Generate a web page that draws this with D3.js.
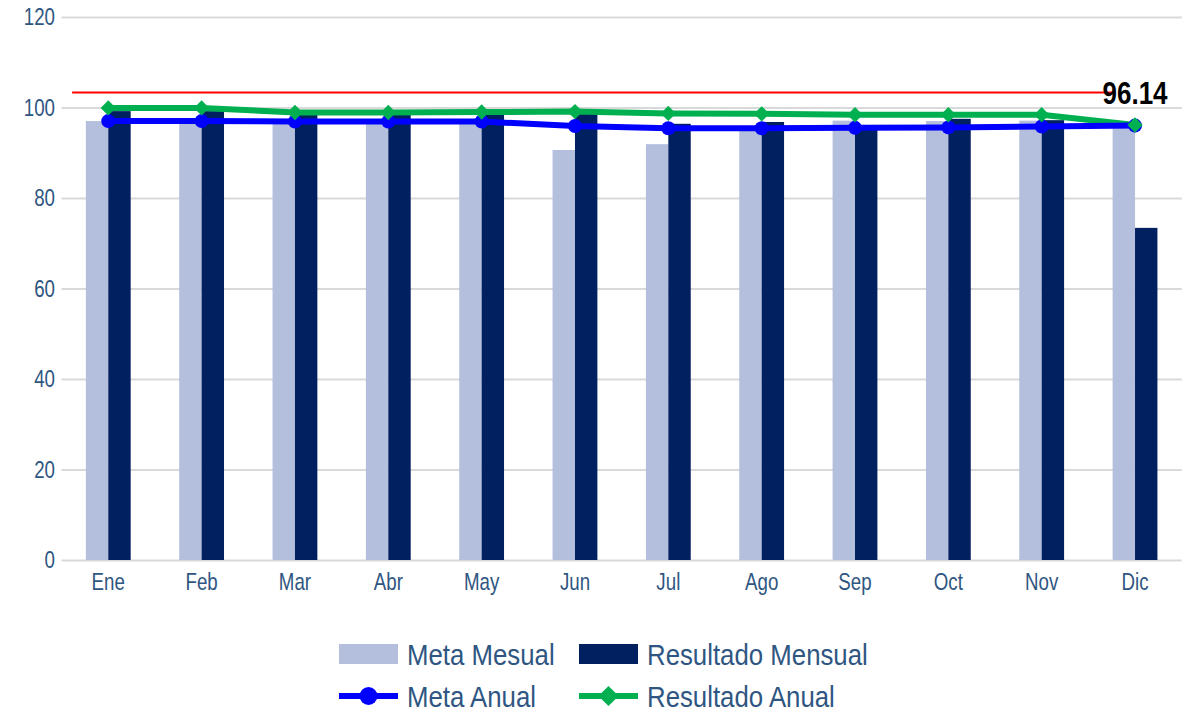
<!DOCTYPE html>
<html>
<head>
<meta charset="utf-8">
<script src="https://cdn.jsdelivr.net/npm/d3@7/dist/d3.min.js"></script>
<style>
  body { margin: 0; background: #fff; }
  svg { display: block; font-family: "Liberation Sans", Arial, sans-serif; }
</style>
</head>
<body>
<div id="chart"></div>
<script>
"use strict";

const MONTHS = ["Ene", "Feb", "Mar", "Abr", "May", "Jun", "Jul", "Ago", "Sep", "Oct", "Nov", "Dic"];
const META_MESUAL = [97.0, 97.0, 96.9, 96.8, 97.0, 90.6, 91.9, 95.3, 97.1, 97.0, 97.1, 96.0];
const RESULTADO_MENSUAL = [99.2, 99.2, 98.6, 98.6, 98.6, 98.6, 96.4, 96.8, 96.1, 97.5, 97.2, 73.4];
const META_ANUAL = [97.0, 97.0, 96.9, 96.9, 96.9, 95.9, 95.4, 95.4, 95.5, 95.6, 95.8, 96.0];
const RESULTADO_ANUAL = [99.9, 99.9, 98.9, 98.9, 99.0, 99.1, 98.7, 98.6, 98.4, 98.4, 98.4, 96.14];
const LIMITE = 103.3;
const Y_TICKS = [0, 20, 40, 60, 80, 100, 120];
const LAST_LABEL = "96.14";

const W = 1196, H = 713;
const margin = { top: 17, right: 14, bottom: 153, left: 61.6 };
// no narrow font installed, so squeeze the text sideways
const NARROW = 0.78;

const svg = d3.select("#chart")
  .append("svg")
  .attr("width", W)
  .attr("height", H);

const x = d3.scaleBand()
  .domain(MONTHS)
  .range([margin.left, 1181.7])
  .paddingInner(0.52)
  .paddingOuter(0.26);

const x1 = d3.scaleBand()
  .domain(["meta", "res"])
  .range([0, x.bandwidth()]);

const y = d3.scaleLinear()
  .domain([0, 120])
  .range([560, margin.top]);

const textColor = "#2f5682";

// gridlines + y labels
const yAxis = svg.append("g")
  .attr("transform", `translate(${margin.left},0)`)
  .call(d3.axisLeft(y).tickValues(Y_TICKS).tickSize(-(1181.7 - margin.left)).tickPadding(8.5));
yAxis.select(".domain").remove();
yAxis.selectAll(".tick line").attr("stroke", "#d9d9d9").attr("stroke-width", 2);
yAxis.selectAll(".tick text")
  .attr("fill", textColor)
  .attr("transform", `scale(${NARROW},1)`)
  .style("font-size", "24px");

// bars
const groups = svg.append("g")
  .selectAll("g")
  .data(MONTHS)
  .enter()
  .append("g")
  .attr("transform", d => `translate(${x(d)},0)`);

groups.append("rect")
  .attr("x", x1("meta"))
  .attr("width", x1.bandwidth())
  .attr("y", (d, i) => y(META_MESUAL[i]))
  .attr("height", (d, i) => y(0) - y(META_MESUAL[i]))
  .attr("fill", "#b4bedd");

groups.append("rect")
  .attr("x", x1("res"))
  .attr("width", x1.bandwidth())
  .attr("y", (d, i) => y(RESULTADO_MENSUAL[i]))
  .attr("height", (d, i) => y(0) - y(RESULTADO_MENSUAL[i]))
  .attr("fill", "#00205f");

// x labels
const xAxis = svg.append("g")
  .attr("transform", `translate(0,560)`)
  .call(d3.axisBottom(x).tickSize(0).tickPadding(13));
xAxis.select(".domain").remove();
xAxis.selectAll(".tick text")
  .attr("fill", textColor)
  .attr("transform", `scale(${NARROW},1)`)
  .style("font-size", "24px");

// red reference line
svg.append("line")
  .attr("x1", margin.left + 10.5)
  .attr("x2", x("Dic"))
  .attr("y1", y(LIMITE))
  .attr("y2", y(LIMITE))
  .attr("stroke", "#ff0000")
  .attr("stroke-width", 2);

const cx = d => x(d) + x.bandwidth() / 2;

const line = d3.line()
  .x(d => cx(d.m))
  .y(d => y(d.v));

const toPts = arr => MONTHS.map((m, i) => ({ m: m, v: arr[i] }));

// Resultado Anual (green)
svg.append("path")
  .datum(toPts(RESULTADO_ANUAL))
  .attr("d", line)
  .attr("fill", "none")
  .attr("stroke", "#00b050")
  .attr("stroke-width", 6)
  .attr("stroke-linejoin", "round");

// Meta Anual (blue)
svg.append("path")
  .datum(toPts(META_ANUAL))
  .attr("d", line)
  .attr("fill", "none")
  .attr("stroke", "#0000ff")
  .attr("stroke-width", 6)
  .attr("stroke-linejoin", "round");

svg.append("g")
  .selectAll("circle")
  .data(toPts(META_ANUAL))
  .enter()
  .append("circle")
  .attr("cx", d => cx(d.m))
  .attr("cy", d => y(d.v))
  .attr("r", 7)
  .attr("fill", "#0000ff");

const diamond = d3.symbol().type(d3.symbolDiamond2).size(150);
svg.append("g")
  .selectAll("path")
  .data(toPts(RESULTADO_ANUAL))
  .enter()
  .append("path")
  .attr("d", diamond)
  .attr("transform", d => `translate(${cx(d.m)},${y(d.v)})`)
  .attr("fill", "#00b050");

// last value label
svg.append("text")
  .attr("transform", `translate(${cx("Dic")},${y(RESULTADO_ANUAL[11]) - 21}) scale(0.84,1)`)
  .attr("text-anchor", "middle")
  .attr("fill", "#000")
  .style("font-size", "31px")
  .style("font-weight", "bold")
  .text(LAST_LABEL);

// legend
const legend = svg.append("g");
const legendItems = [
  { name: "Meta Mesual", kind: "bar", color: "#b4bedd", lx: 339, ly: 654 },
  { name: "Resultado Mensual", kind: "bar", color: "#00205f", lx: 579, ly: 654 },
  { name: "Meta Anual", kind: "circle", color: "#0000ff", lx: 339, ly: 696 },
  { name: "Resultado Anual", kind: "diamond", color: "#00b050", lx: 579, ly: 696 }
];

legendItems.forEach(function (it) {
  const g = legend.append("g").attr("transform", `translate(${it.lx},${it.ly})`);
  if (it.kind === "bar") {
    g.append("rect").attr("x", 0).attr("y", -10).attr("width", 59).attr("height", 20).attr("fill", it.color);
  } else {
    g.append("line").attr("x1", 0).attr("x2", 59).attr("y1", 0).attr("y2", 0)
      .attr("stroke", it.color).attr("stroke-width", 6);
    if (it.kind === "circle") {
      g.append("circle").attr("cx", 29.5).attr("cy", 0).attr("r", 9).attr("fill", it.color);
    } else {
      g.append("path").attr("d", d3.symbol().type(d3.symbolDiamond2).size(260))
        .attr("transform", "translate(29.5,0)").attr("fill", it.color);
    }
  }
  g.append("text")
    .attr("transform", "translate(68,0) scale(0.86,1)")
    .attr("dy", "0.36em")
    .attr("fill", textColor)
    .style("font-size", "30px")
    .text(it.name);
});
</script>
</body>
</html>
